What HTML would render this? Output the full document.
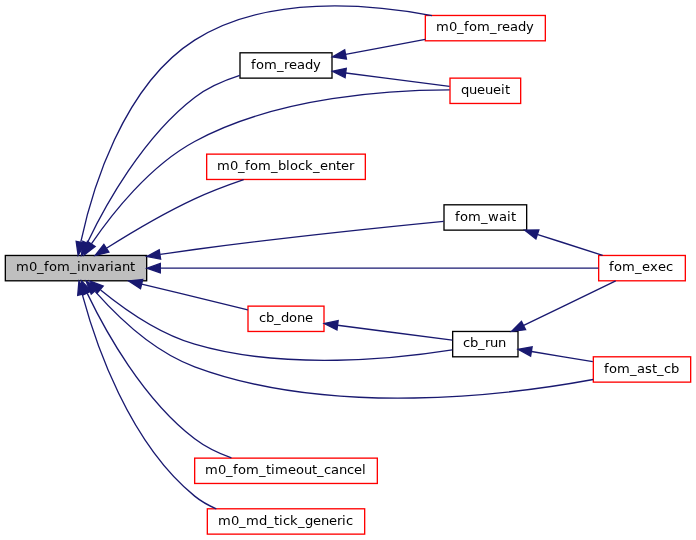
<!DOCTYPE html>
<html lang="en">
<head>
<meta charset="utf-8">
<title>m0_fom_invariant</title>
<style>
html,body{margin:0;padding:0;background:#fff;}
body{width:696px;height:540px;overflow:hidden;}
svg{display:block;will-change:transform;}
.e{fill:none;stroke:#191970;stroke-width:1;}
.a{fill:#191970;stroke:#191970;stroke-width:1;}
.n{fill:#fff;stroke-width:1;}
.k{stroke:#000;}
.r{stroke:#f00;}
.g{fill:#bfbfbf;}
text{font-family:"DejaVu Sans","Liberation Sans",sans-serif;font-size:13.1px;fill:#000;}
</style>
</head>
<body>
<svg width="696" height="540">
<rect width="696" height="540" fill="#fff"/>
<g transform="scale(1.3333333) translate(4 401.1)">
<g class="nodes">
<rect class="n k g" x="0" y="-209.5" width="106" height="19"/>
<rect class="n k" x="176" y="-361.5" width="69" height="19"/>
<rect class="n r" x="315" y="-389.5" width="90" height="19"/>
<rect class="n r" x="333.5" y="-342.5" width="53" height="19"/>
<rect class="n r" x="151" y="-285.5" width="119" height="19"/>
<rect class="n k" x="329" y="-247.5" width="62" height="19"/>
<rect class="n r" x="445" y="-209.5" width="65" height="19"/>
<rect class="n r" x="182" y="-171.5" width="57" height="19"/>
<rect class="n k" x="335.5" y="-152.5" width="49" height="19"/>
<rect class="n r" x="441" y="-133.5" width="73" height="19"/>
<rect class="n r" x="142" y="-57.5" width="137" height="19"/>
<rect class="n r" x="151.5" y="-19.5" width="118" height="19"/>
</g>
<g class="edges">
<path class="e" d="M61.44,-218.91C74.73,-246.65 103.1,-298.28 142,-328 151.88,-335.55 164.34,-340.86 175.86,-344.54"/><polygon class="a" points="64.48,-217.15 57.09,-209.55 58.13,-220.09 64.48,-217.15"/>
<path class="e" d="M56.61,-219.66C64.57,-256.73 87.47,-336.36 142,-371 195.54,-405.2 272.61,-398.28 320.0,-389.4"/><polygon class="a" points="59.99,-218.74 54.6,-209.62 53.13,-220.11 59.99,-218.74"/>
<path class="e" d="M64.54,-218.2C79.54,-240.21 107.89,-276.59 142,-295 204.48,-329.01 290.72,-333.66 333.21,-333.66"/><polygon class="a" points="67.38,-216.16 58.95,-209.74 61.54,-220.02 67.38,-216.16"/>
<path class="e" d="M75.81,-214.93C93.42,-226.06 118.65,-241.14 142,-252 153.73,-257.45 167.07,-262.44 178.77,-266.43"/><polygon class="a" points="77.66,-211.96 67.35,-209.52 73.89,-217.85 77.66,-211.96"/>
<path class="e" d="M116.14,-210.26C124.82,-211.59 133.63,-212.87 142,-214 208.49,-222.96 286.77,-231 328.75,-235.11"/><polygon class="a" points="116.47,-206.77 106.06,-208.7 115.4,-213.69 116.47,-206.77"/>
<path class="e" d="M116.47,-200C208.02,-200 375.31,-200 444.86,-200"/><polygon class="a" points="116.23,-196.5 106.23,-200 116.23,-203.5 116.23,-196.5"/>
<path class="e" d="M102.28,-188.03C128.54,-181.66 159.87,-174.05 181.86,-168.71"/><polygon class="a" points="101.38,-184.65 92.49,-190.41 103.04,-191.45 101.38,-184.65"/>
<path class="e" d="M71.45,-183.65C88.43,-169.78 115.01,-150.9 142,-143 209.74,-122.98 294.66,-132.28 335.25,-138.7"/><polygon class="a" points="68.88,-181.24 63.49,-190.37 73.39,-186.59 68.88,-181.24"/>
<path class="e" d="M67.45,-182.37C83.49,-164.31 111.21,-137.33 142,-126 244.9,-87.81 378.18,-104.92 440.9,-116.49"/><polygon class="a" points="64.41,-180.54 60.55,-190.41 69.72,-185.1 64.41,-180.54"/>
<path class="e" d="M61.44,-181.09C74.73,-153.35 103.1,-101.72 142,-72 150.1,-65.81 159.94,-61.12 169.57,-57.61"/><polygon class="a" points="58.13,-179.91 57.09,-190.45 64.48,-182.85 58.13,-179.91"/>
<path class="e" d="M57.8,-179.98C67.43,-144.19 92.56,-69.2 142,-29 146.82,-25.08 152.39,-21.97 158.24,-19.5"/><polygon class="a" points="54.29,-179.58 55.2,-190.14 61.07,-181.31 54.29,-179.58"/>
<path class="e" d="M255.17,-360.29C274.03,-363.87 296.06,-368.05 314.96,-371.64"/><polygon class="a" points="255.82,-356.85 245.34,-358.42 254.51,-363.73 255.82,-356.85"/>
<path class="e" d="M255.44,-346.34C280.75,-343.08 311.7,-339.09 333.13,-336.33"/><polygon class="a" points="254.81,-342.89 245.34,-347.64 255.7,-349.83 254.81,-342.89"/>
<path class="e" d="M399.38,-225.17C415.48,-220.08 433,-214.31 448.0,-209.59"/><polygon class="a" points="397.95,-221.96 389.55,-228.41 400.14,-228.61 397.95,-221.96"/>
<path class="e" d="M249.17,-157.15C276.29,-153.65 312.05,-149.05 335.28,-146.06"/><polygon class="a" points="248.71,-153.68 239.24,-158.43 249.61,-160.62 248.71,-153.68"/>
<path class="e" d="M388.79,-157.04C410.49,-167.42 438.59,-181.29 457.78,-190.43"/><polygon class="a" points="390.2,-153.83 379.68,-152.54 387.1,-160.1 390.2,-153.83"/>
<path class="e" d="M394.65,-137.46C409.07,-135.09 425.93,-132.32 440.59,-129.91"/><polygon class="a" points="393.95,-134.03 384.65,-139.11 395.09,-140.94 393.95,-134.03"/>
</g>
</g>
<g class="labels">
<text x="16 29 37 44 49 57 70 77 81 89 97 105 110 114 122 130" y="271">m0_fom_invariant</text>
<text x="251 256 264 277 284 289 297 305 313" y="69">fom_ready</text>
<text x="436 449 457 464 469 477 490 497 502 510 518 526" y="31">m0_fom_ready</text>
<text x="461 469 477 485 493 501 505" y="94">queueit</text>
<text x="217 230 238 245 250 258 271 278 286 290 298 305 313 320 328 336 341 349" y="170">m0_fom_block_enter</text>
<text x="455 460 468 481 488 499 507 511" y="221">fom_wait</text>
<text x="609 614 622 635 642 650 658 666" y="271">fom_exec</text>
<text x="259 266 274 281 289 297 305" y="322">cb_done</text>
<text x="463 470 478 485 490 498" y="347">cb_run</text>
<text x="604 609 617 630 637 645 652 657 664 671" y="373">fom_ast_cb</text>
<text x="205 218 226 233 238 246 259 266 271 275 288 296 304 312 317 324 331 339 347 354 362" y="474">m0_fom_timeout_cancel</text>
<text x="218 231 239 246 259 267 274 279 283 290 298 305 313 321 329 337 342 346" y="525">m0_md_tick_generic</text>
</g>
</svg>
</body>
</html>
